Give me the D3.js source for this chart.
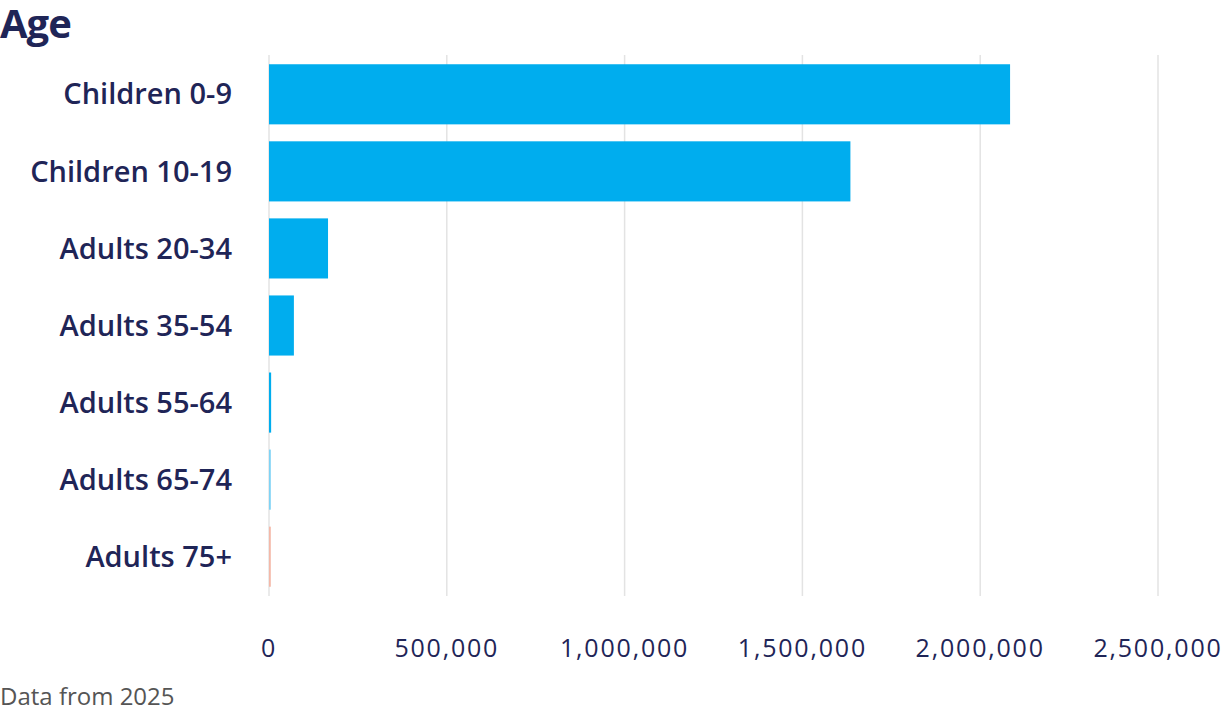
<!DOCTYPE html><html><head><meta charset="utf-8"><script src="https://cdn.jsdelivr.net/npm/d3@7"></script>
<style>body{margin:0;background:#fff;font-family:"Open Sans",sans-serif}</style></head><body><svg id="c" width="1230" height="714"></svg>
<script>
const categories=["Children 0-9","Children 10-19","Adults 20-34","Adults 35-54","Adults 55-64","Adults 65-74","Adults 75+"];
const values=[2084000,1635000,166000,70000,6000,3000,1000];
const barColors=["#00adee","#00adee","#00adee","#00adee","#00adee","#7fd3f5","#f4b8a8"];
const ticks=[0,500000,1000000,1500000,2000000,2500000];
const svg=d3.select("#c");
const navy="#1f2557";
const x=d3.scaleLinear().domain([0,2500000]).range([269,1158]);
const y=d3.scaleBand().domain(categories).range([55,596]).paddingInner(0.22).paddingOuter(0.12);
svg.append("g").selectAll("line").data(ticks).join("line").attr("x1",d=>x(d)).attr("x2",d=>x(d)).attr("y1",55).attr("y2",596).attr("stroke","#e3e3e3").attr("stroke-width",1.5);
svg.append("g").selectAll("rect").data(values).join("rect").attr("x",x(0)).attr("y",(d,i)=>y(categories[i])).attr("width",d=>Math.max(1.8,x(d)-x(0))).attr("height",y.bandwidth()).attr("fill",(d,i)=>barColors[i]);
svg.append("g").selectAll("text").data(categories).join("text").attr("x",232).attr("y",d=>y(d)+y.bandwidth()/2).attr("dy","0.35em").attr("text-anchor","end").attr("fill",navy).attr("font-size",29).attr("font-weight",600).text(d=>d);
svg.append("g").selectAll("text").data(ticks).join("text").attr("x",d=>x(d)).attr("y",657).attr("text-anchor","middle").attr("fill",navy).attr("font-size",25).attr("letter-spacing",1.8).text(d=>d3.format(",")(d));
svg.append("text").attr("x",0).attr("y",38).attr("fill",navy).attr("font-size",40).attr("font-weight",700).attr("letter-spacing",-1).text("Age");
svg.append("text").attr("x",0).attr("y",705).attr("fill","#555").attr("font-size",24).text("Data from 2025");
</script></body></html>
